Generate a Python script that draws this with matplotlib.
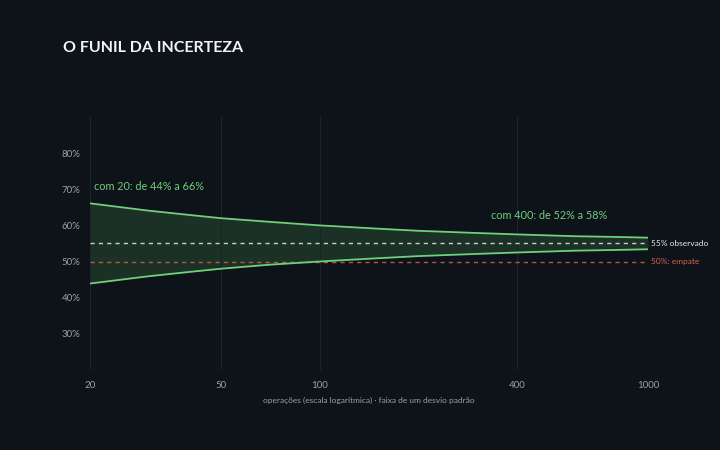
import matplotlib
matplotlib.use('Agg')
import matplotlib.pyplot as plt
from matplotlib.ticker import FixedLocator, NullLocator

# operações (n) e faixa de um desvio padrão (%)
ops = [20, 30, 40, 50, 70, 100, 150, 200, 300, 400, 600, 800, 1000]
upper = [66.1, 64.1, 62.9, 62.0, 61.0, 60.0, 59.1, 58.5, 57.9, 57.5, 57.0, 56.8, 56.6]
lower = [43.9, 45.9, 47.1, 48.0, 49.1, 50.0, 50.9, 51.5, 52.1, 52.5, 53.0, 53.2, 53.4]

observed = 55
tie = 50
x_ticks = [20, 50, 100, 400, 1000]
y_ticks = [30, 40, 50, 60, 70, 80]

BG = '#0e131a'
GREEN = '#6fcf7c'
FILL = '#1b3125'
GRAY = '#9aa0a8'
RED = '#d8604c'

plt.rcParams['font.family'] = ['Lato', 'DejaVu Sans']

fig = plt.figure(figsize=(7.2, 4.5), dpi=100, facecolor=BG)
ax = fig.add_axes([0.125, 0.178, 0.775, 0.562], facecolor=BG)

ax.fill_between(ops, lower, upper, color=FILL, linewidth=0, zorder=1)
ax.plot(ops, upper, color=GREEN, linewidth=1.3, zorder=3)
ax.plot(ops, lower, color=GREEN, linewidth=1.3, zorder=3)

ax.axhline(observed, color='#c9cdd2', linestyle=(0, (3, 3)), linewidth=1.0, zorder=2)
ax.axhline(tie, color=RED, linestyle=(0, (3, 3)), linewidth=1.0, alpha=0.85, zorder=2)

ax.set_xscale('log')
ax.set_xlim(20, 1000)
ax.set_ylim(20, 90)
ax.xaxis.set_major_locator(FixedLocator(x_ticks))
ax.xaxis.set_minor_locator(NullLocator())
ax.set_xticklabels([str(t) for t in x_ticks])
ax.set_yticks(y_ticks)
ax.set_yticklabels([f'{t}%' for t in y_ticks])
ax.tick_params(axis='both', length=0, colors=GRAY, labelsize=7)
ax.tick_params(axis='x', pad=8)
ax.tick_params(axis='y', pad=7)
ax.grid(True, axis='x', color='#1d232c', linewidth=0.8)
ax.grid(False, axis='y')
for s in ax.spines.values():
    s.set_visible(False)

ax.set_xlabel('operações (escala logarítmica) · faixa de um desvio padrão',
              color=GRAY, fontsize=6, labelpad=5)

ax.text(1.006, observed, '55% observado', transform=ax.get_yaxis_transform(),
        color='#e6e8eb', fontsize=6, va='center', ha='left')
ax.text(1.006, tie, '50%: empate', transform=ax.get_yaxis_transform(),
        color=RED, fontsize=6, va='center', ha='left')

ax.text(20.6, 70.8, 'com 20: de 44% a 66%', color=GREEN, fontsize=7.8,
        va='center', ha='left')
ax.text(500, 62.8, 'com 400: de 52% a 58%', color=GREEN, fontsize=7.8,
        va='center', ha='center')

fig.text(0.087, 0.893, 'O FUNIL DA INCERTEZA', color='#f2f3f5', fontsize=11.5,
         fontweight='bold', va='center', ha='left')

fig.savefig('out.png', dpi=100, facecolor=BG)
